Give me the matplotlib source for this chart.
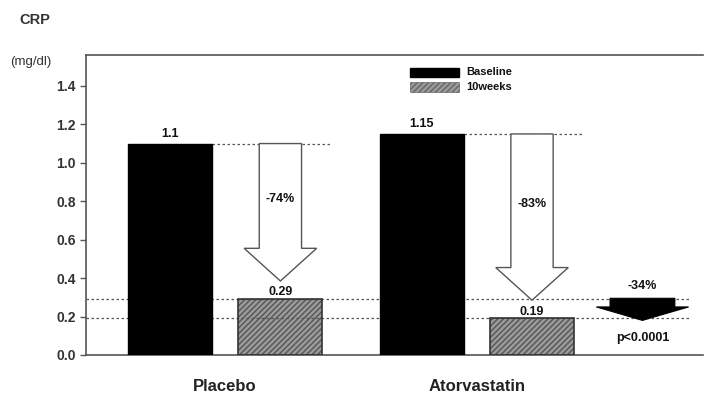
import matplotlib
matplotlib.use("Agg")
from matplotlib import pyplot as plt
from matplotlib.patches import FancyArrow, Rectangle

plt.rcParams['font.family'] = ['Liberation Sans', 'DejaVu Sans']

groups = ['Placebo', 'Atorvastatin']
baseline = [1.1, 1.15]
week10 = [0.29, 0.19]
baseline_labels = ['1.1', '1.15']
week10_labels = ['0.29', '0.19']
change_labels = ['-74%', '-83%']
diff_label = '-34%'
p_label = 'p<0.0001'
yticks = [0.0, 0.2, 0.4, 0.6, 0.8, 1.0, 1.2, 1.4]

group_x = [0.0, 2.29]
bw = 0.764

fig = plt.figure(figsize=(7.05, 3.93), dpi=100)
ax = fig.add_axes([0.122, 0.0967, 0.875, 0.763])
ax.set_xlim(-0.764, 4.85)
ax.set_ylim(0, 1.56)

base_x = [g for g in group_x]
wk_x = [g + 1.005 for g in group_x]

# baseline bars (black)
ax.bar(base_x, baseline, width=bw, color='black', edgecolor='black', zorder=3)
# 10 weeks bars (hatched grey)
ax.bar(wk_x, week10, width=bw, color='#9a9a9a', edgecolor='#555555',
       hatch='//////', linewidth=0, zorder=2)
ax.bar(wk_x, week10, width=bw, fill=False, edgecolor='#333333', linewidth=1.2, zorder=4)

dash = dict(color='#555555', linestyle=(0, (2, 2)), linewidth=0.9)
# dotted reference lines at follow-up values
for v in week10:
    ax.plot([-0.764, 4.73], [v, v], zorder=2.5, **dash)
# dotted lines from baseline bar tops
for i in range(2):
    ax.plot([base_x[i] + bw / 2, wk_x[i] + 0.47], [baseline[i], baseline[i]], zorder=2.5, **dash)

txt = dict(fontsize=9, color='#111111', fontweight='semibold')

# value labels
for i in range(2):
    ax.text(base_x[i], baseline[i] + 0.02, baseline_labels[i], ha='center', va='bottom', **txt)
    ax.text(wk_x[i], week10[i] + 0.005, week10_labels[i], ha='center', va='bottom', **txt)

# open arrows showing reduction
for i in range(2):
    tip = week10[i] + 0.095
    arr = FancyArrow(wk_x[i], baseline[i], 0, tip - baseline[i], width=0.385,
                     head_width=0.66, head_length=0.17, length_includes_head=True,
                     facecolor='white', edgecolor='#555555', linewidth=1.0, zorder=5)
    ax.add_patch(arr)
    ax.text(wk_x[i], (baseline[i] + tip) / 2 + 0.07, change_labels[i], ha='center',
            va='center', zorder=6, **txt)

# black arrow between follow-up values
ax_x = 4.3
barr = FancyArrow(ax_x, week10[0] + 0.005, 0, week10[1] - week10[0] - 0.015, width=0.59,
                  head_width=0.84, head_length=0.07, length_includes_head=True,
                  facecolor='black', edgecolor='black', linewidth=0.8, zorder=5)
ax.add_patch(barr)
ax.text(ax_x, week10[0] + 0.04, diff_label, ha='center', va='bottom', **txt)
ax.text(ax_x, 0.09, p_label, ha='center', va='center', **txt)

# legend
ax.add_patch(Rectangle((2.18, 1.445), 0.45, 0.05, facecolor='black', edgecolor='black', zorder=5))
ax.add_patch(Rectangle((2.18, 1.37), 0.45, 0.05, facecolor='#9a9a9a', edgecolor='#666666',
                       hatch='//////', linewidth=0.5, zorder=5))
ax.text(2.7, 1.47, 'Baseline', va='center', fontsize=8, color='#111111', fontweight='semibold')
ax.text(2.7, 1.395, '10weeks', va='center', fontsize=8, color='#111111', fontweight='semibold')

# axes styling
ax.spines['right'].set_visible(False)
for s in ['left', 'top', 'bottom']:
    ax.spines[s].set_color('#555555')
    ax.spines[s].set_linewidth(1.2)
ax.set_yticks(yticks)
ax.set_yticklabels(['%.1f' % t for t in yticks], fontsize=10, fontweight='bold', color='#333333')
ax.tick_params(axis='y', direction='out', length=4, width=1, color='#555555')
ax.set_xticks([(b + w) / 2 for b, w in zip(base_x, wk_x)])
ax.set_xticklabels(groups, fontsize=12, fontweight='bold', color='#222222')
ax.tick_params(axis='x', length=0, pad=17)

fig.text(0.028, 0.94, 'CRP', fontsize=10.5, fontweight='bold', color='#333333')
fig.text(0.015, 0.835, '(mg/dl)', fontsize=9.5, color='#333333')

fig.savefig('out.png', dpi=100)
